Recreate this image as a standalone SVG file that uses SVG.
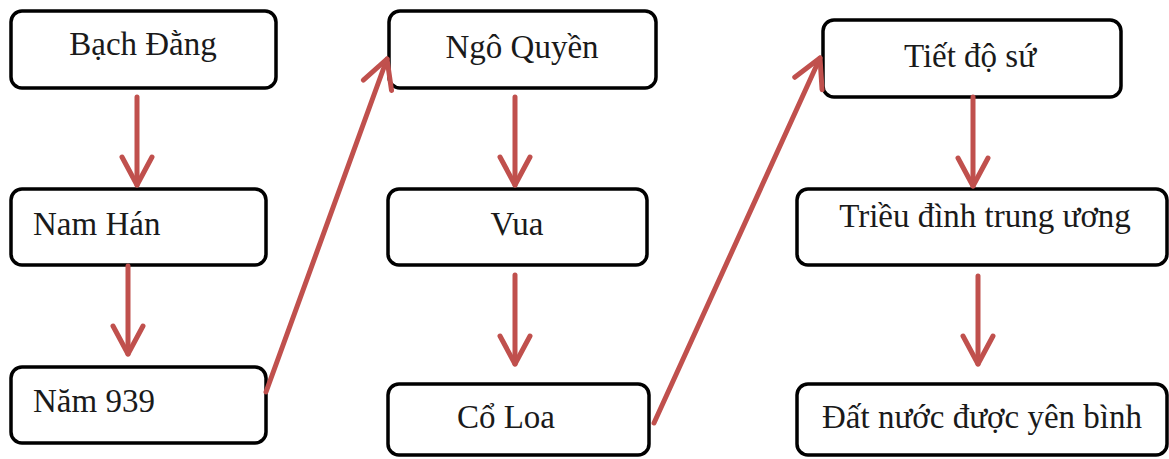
<svg xmlns="http://www.w3.org/2000/svg" width="1169" height="459" viewBox="0 0 1169 459">
<style>
.box{fill:#fff;stroke:#000;stroke-width:3.5}
.t{font-family:"Liberation Serif","Times New Roman",serif;font-size:33px;fill:#1a1a1a}
.c{text-anchor:middle}
.ln{stroke:#c0504d;stroke-width:5;fill:none;stroke-linecap:round}
</style>
<defs>
<marker id="ah" viewBox="-34 -18 38 36" refX="0" refY="0" markerWidth="38" markerHeight="36" markerUnits="userSpaceOnUse" orient="auto">
<path d="M-28,-15 L0,0 L-28,15" fill="none" stroke="#c0504d" stroke-width="5" stroke-linecap="round" stroke-linejoin="round"/>
</marker>
</defs>
<rect width="1169" height="459" fill="#fff"/>
<g id="n1"><rect class="box" x="11" y="11" width="265" height="77" rx="11"/><text class="t c" x="143" y="55">Bạch Đằng</text></g>
<g id="n2"><rect class="box" x="11" y="189" width="255" height="76" rx="11"/><text class="t" x="33" y="235">Nam Hán</text></g>
<g id="n3"><rect class="box" x="11" y="367" width="255" height="76" rx="11"/><text class="t" x="33" y="412">Năm 939</text></g>
<g id="n4"><rect class="box" x="389" y="11" width="267" height="77" rx="11"/><text class="t c" x="522" y="58">Ngô Quyền</text></g>
<g id="n5"><rect class="box" x="388" y="189" width="259" height="76" rx="11"/><text class="t c" x="517" y="235">Vua</text></g>
<g id="n6"><rect class="box" x="388" y="384" width="261" height="71" rx="11"/><text class="t c" x="506" y="428">Cổ Loa</text></g>
<g id="n7"><rect class="box" x="823" y="20" width="298" height="77" rx="11"/><text class="t c" x="970" y="67">Tiết độ sứ</text></g>
<g id="n8"><rect class="box" x="797" y="189" width="370" height="76" rx="11"/><text class="t c" x="985" y="227">Triều đình trung ương</text></g>
<g id="n9"><rect class="box" x="797" y="384" width="370" height="71" rx="11"/><text class="t c" x="982" y="428">Đất nước được yên bình</text></g>
<g id="connectors">
<line class="ln" x1="137" y1="97" x2="137" y2="185" marker-end="url(#ah)"/>
<line class="ln" x1="128" y1="266" x2="128" y2="354" marker-end="url(#ah)"/>
<line class="ln" x1="266" y1="392" x2="387" y2="59" marker-end="url(#ah)"/>
<line class="ln" x1="515" y1="97" x2="515" y2="185" marker-end="url(#ah)"/>
<line class="ln" x1="515" y1="275" x2="515" y2="364" marker-end="url(#ah)"/>
<line class="ln" x1="654" y1="423" x2="820" y2="58" marker-end="url(#ah)"/>
<line class="ln" x1="973" y1="97" x2="973" y2="186" marker-end="url(#ah)"/>
<line class="ln" x1="978" y1="276" x2="978" y2="364" marker-end="url(#ah)"/>
</g>
</svg>
